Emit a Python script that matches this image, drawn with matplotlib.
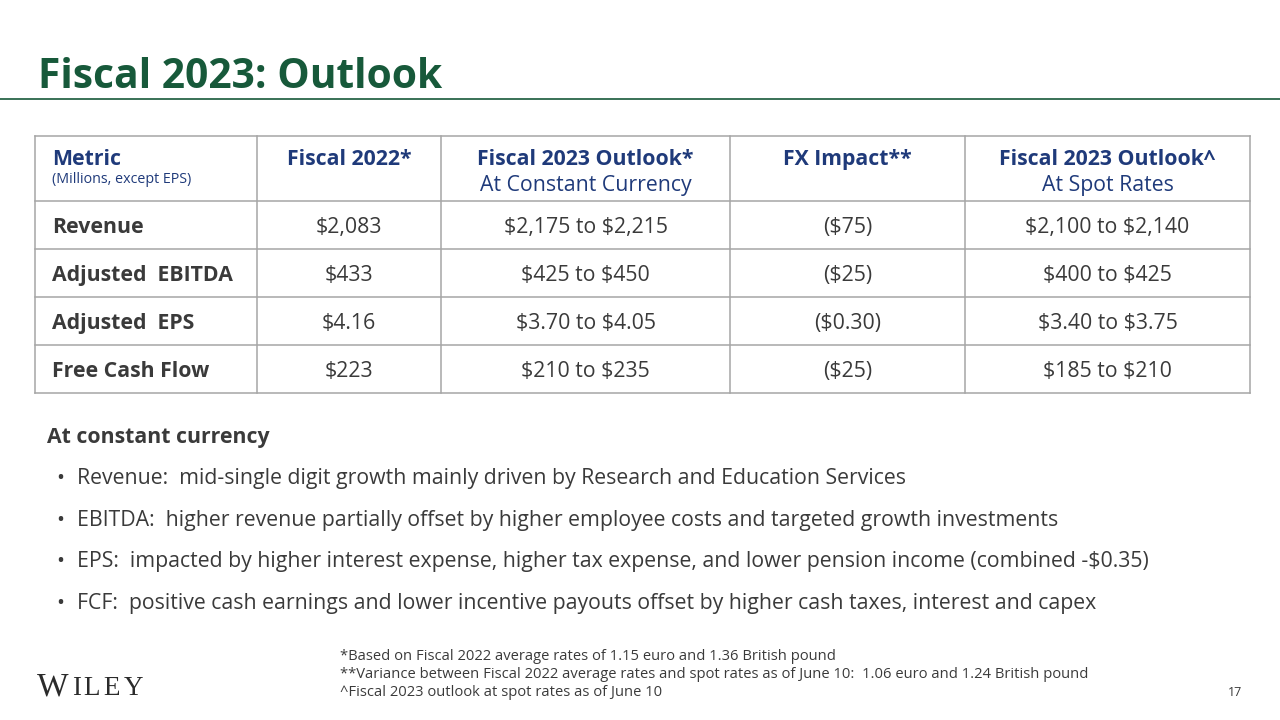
import matplotlib
matplotlib.use("Agg")
import matplotlib.pyplot as plt

plt.rcParams["text.parse_math"] = False

# ---------------- data ----------------
title = "Fiscal 2023: Outlook"
col_headers = ["Metric", "Fiscal 2022*", "Fiscal 2023 Outlook*", "FX Impact**", "Fiscal 2023 Outlook^"]
col_subheaders = ["(Millions, except EPS)", "", "At Constant Currency", "", "At Spot Rates"]
metrics = ["Revenue", "Adjusted  EBITDA", "Adjusted  EPS", "Free Cash Flow"]
fiscal_2022 = ["$2,083", "$433", "$4.16", "$223"]
outlook_constant = ["$2,175 to $2,215", "$425 to $450", "$3.70 to $4.05", "$210 to $235"]
fx_impact = ["($75)", "($25)", "($0.30)", "($25)"]
outlook_spot = ["$2,100 to $2,140", "$400 to $425", "$3.40 to $3.75", "$185 to $210"]
section_heading = "At constant currency"
bullets = [
    "Revenue:  mid-single digit growth mainly driven by Research and Education Services",
    "EBITDA:  higher revenue partially offset by higher employee costs and targeted growth investments",
    "EPS:  impacted by higher interest expense, higher tax expense, and lower pension income (combined -$0.35)",
    "FCF:  positive cash earnings and lower incentive payouts offset by higher cash taxes, interest and capex",
]
footnotes = [
    "*Based on Fiscal 2022 average rates of 1.15 euro and 1.36 British pound",
    "**Variance between Fiscal 2022 average rates and spot rates as of June 10:  1.06 euro and 1.24 British pound",
    "^Fiscal 2023 outlook at spot rates as of June 10",
]
logo_letters = ["W", "I", "L", "E", "Y"]
page_number = "17"

# ---------------- style ----------------
GREEN = "#17593a"
NAVY = "#1f3a7a"
TEXT = "#3a3a3a"
GRID = "#a6a6a6"
FONT = "Open Sans"
FS = 15.3
DY = 2.5  # vertical nudge for centred text

fig = plt.figure(figsize=(12.8, 7.2), dpi=100)
ax = fig.add_axes([0, 0, 1, 1])
ax.set_xlim(0, 1280)
ax.set_ylim(720, 0)
ax.axis("off")

# title + rule
ax.text(38, 88, title, fontsize=29.3, fontweight="bold", color=GREEN, family=FONT, va="baseline")
ax.plot([0, 1280], [99, 99], color=GREEN, lw=1.2)

# table geometry
col_x = [35, 257, 441, 730, 965, 1250]
row_y = [136, 201, 249, 297, 345, 393]

for x in col_x:
    ax.plot([x, x], [row_y[0], row_y[-1]], color=GRID, lw=1.1)
for y in row_y:
    ax.plot([col_x[0], col_x[-1]], [y, y], color=GRID, lw=1.1)

# header
for i, (h, s) in enumerate(zip(col_headers, col_subheaders)):
    if i == 0:
        ax.text(52, 157 + DY, h, fontsize=FS, fontweight="bold", color=NAVY, family=FONT, va="center", ha="left")
        ax.text(52, 178 + 1.5, s, fontsize=10.3, color=NAVY, family=FONT, va="center", ha="left")
    else:
        cx = (col_x[i] + col_x[i + 1]) / 2
        ax.text(cx, 157 + DY, h, fontsize=FS, fontweight="bold", color=NAVY, family=FONT, va="center", ha="center")
        if s:
            ax.text(cx, 183 + DY, s, fontsize=FS, color=NAVY, family=FONT, va="center", ha="center")

# body
columns = [fiscal_2022, outlook_constant, fx_impact, outlook_spot]
for r, m in enumerate(metrics):
    cy = (row_y[r + 1] + row_y[r + 2]) / 2 + DY
    ax.text(52, cy, m, fontsize=FS, fontweight="bold", color=TEXT, family=FONT, va="center", ha="left")
    for c, col in enumerate(columns):
        cx = (col_x[c + 1] + col_x[c + 2]) / 2
        ax.text(cx, cy, col[r], fontsize=FS, color=TEXT, family=FONT, va="center", ha="center")

# bullets
ax.text(47, 435 + DY, section_heading, fontsize=FS, fontweight="bold", color=TEXT, family=FONT, va="center")
for k, b in enumerate(bullets):
    y = 476 + k * 41.7 + DY
    ax.text(60, y, "\u2022", fontsize=FS, color=TEXT, family=FONT, va="center", ha="center")
    ax.text(77, y, b, fontsize=FS, color=TEXT, family=FONT, va="center")

# footnotes: fit the longest line to its width in the reference layout
renderer = fig.canvas.get_renderer()
fn_size = 10.5
probe = ax.text(340, 0, footnotes[1], fontsize=fn_size, family=FONT)
w = probe.get_window_extent(renderer).width
probe.remove()
fn_size = fn_size * 752.0 / w
for k, f in enumerate(footnotes):
    ax.text(340, 655 + k * 17.5 + 2, f, fontsize=fn_size, color=TEXT, family=FONT, va="center")

# logo
logo_x = [37, 72.5, 83, 103.5, 123.5]
for i, (lx, ch) in enumerate(zip(logo_x, logo_letters)):
    ax.text(lx, 695, ch, fontsize=24 if i == 0 else 19.5, color="#2b2b2b",
            family="Liberation Serif", va="baseline")

ax.text(1242, 693, page_number, fontsize=9, color=TEXT, family=FONT, va="center", ha="right")

fig.savefig("out.png", dpi=100, facecolor="white")
